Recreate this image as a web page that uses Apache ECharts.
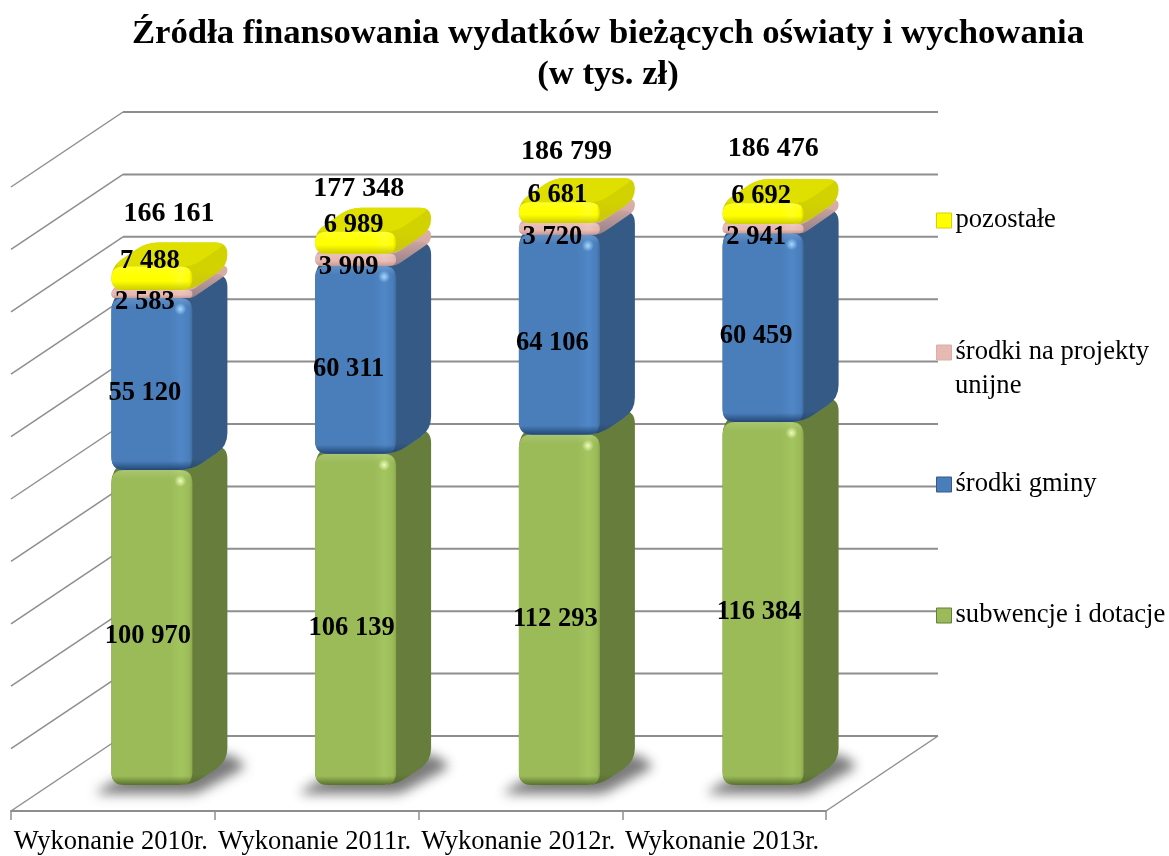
<!DOCTYPE html>
<html><head><meta charset="utf-8">
<style>html,body{margin:0;padding:0;background:#fff}#c{width:1169px;height:856px}</style>
<script src="https://cdn.jsdelivr.net/npm/echarts@6/dist/echarts.min.js"></script>
</head><body><div id="c"></div>
<script>
const categories = ['Wykonanie 2010r.','Wykonanie 2011r.','Wykonanie 2012r.','Wykonanie 2013r.'];
const subwencje = [100970,106139,112293,116384];
const gminy = [55120,60311,64106,60459];
const projekty = [2583,3909,3720,2941];
const pozostale = [7488,6989,6681,6692];
const totals = [166161,177348,186799,186476];
const yTicks = [0,20000,40000,60000,80000,100000,120000,140000,160000,180000,200000];
const seriesNames = ['subwencje i dotacje','środki gminy','środki na projekty unijne','pozostałe'];
const seriesValues = [subwencje,gminy,projekty,pozostale];

const FONT = '"Liberation Serif"';
const palette = [
 {front:'#9BBB59',light:'#A3C55E',side:'#677D3B',top:'#8BA84E',edge:'rgba(80,105,40,0.9)',glow:'rgba(240,255,190,0.95)'},
 {front:'#4A7EBB',light:'#5087C6',side:'#355A85',top:'#3F6C9F',edge:'rgba(30,65,110,0.9)',glow:'rgba(170,220,255,0.95)'},
 {front:'#E6B9B2',light:'#EBC3BC',side:'#D9AFA8',top:'#DDB1AA',edge:'rgba(190,140,132,0.7)',glow:'rgba(255,255,255,0)'},
 {front:'#FFFF00',light:'#FFFF20',side:'#D2D200',top:'#E0E000',edge:'rgba(200,200,0,0.9)',glow:'rgba(255,255,210,0)'}
];
const WALL = {dx:112,dy:-75};
const BAR = {w:81,dx:35,dy:-24,shiftX:39,shiftY:-26,r:13};

function roundedPoly(pts,r){
  const n=pts.length; let d='';
  for(let i=0;i<n;i++){
    const p=pts[i],a=pts[(i+n-1)%n],b=pts[(i+1)%n];
    const la=Math.hypot(a[0]-p[0],a[1]-p[1]),lb=Math.hypot(b[0]-p[0],b[1]-p[1]);
    const ra=Math.min(r,la/2),rb=Math.min(r,lb/2);
    const s=[p[0]+(a[0]-p[0])*ra/la,p[1]+(a[1]-p[1])*ra/la];
    const e=[p[0]+(b[0]-p[0])*rb/lb,p[1]+(b[1]-p[1])*rb/lb];
    d+=(i?'L':'M')+s[0].toFixed(1)+' '+s[1].toFixed(1)+'Q'+p[0].toFixed(1)+' '+p[1].toFixed(1)+' '+e[0].toFixed(1)+' '+e[1].toFixed(1);
  }
  return d+'Z';
}
function pathEl(d,style){return {type:'path',shape:{pathData:d},style};}
function fmt(v){return String(v).replace(/\B(?=(\d{3})+$)/g,' ');}

function layerRender(layer){
  const c=palette[layer];
  return function(params,api){
    const b=api.coord([api.value(0),api.value(1)]);
    const t=api.coord([api.value(0),api.value(2)]);
    const x0=b[0]+BAR.shiftX-BAR.w/2, y0=b[1]+BAR.shiftY, y1=t[1]+BAR.shiftY;
    const w=BAR.w,dx=BAR.dx,dy=BAR.dy,h=y0-y1,r=Math.min(BAR.r,h/2);
    const kids=[];
    if(layer===0){
      const off=3000;
      const sh=[[x0-18,y0+9],[x0+w+4,y0+9],[x0+w+dx+20,y0+dy+5],[x0+w+dx,y0+dy-8],[x0+6,y0-6]].map(p=>[p[0]-off,p[1]]);
      kids.push(pathEl(roundedPoly(sh,8),{fill:'#000',shadowBlur:12,shadowColor:'rgba(70,70,70,0.72)',shadowOffsetX:off,shadowOffsetY:0}));
    }
    kids.push(pathEl(roundedPoly([[x0,y1],[x0+dx,y1+dy],[x0+w+dx,y1+dy],[x0+w+dx,y0+dy],[x0+w,y0],[x0,y0]],r),{
      fill:{type:'linear',x:0,y:0,x2:0,y2:1,colorStops:[{offset:0,color:c.side},{offset:Math.max(0,1-10/h),color:c.side},{offset:1,color:c.edge}]}}));
    kids.push(pathEl(roundedPoly([[x0,y1],[x0+dx,y1+dy],[x0+w+dx,y1+dy],[x0+w,y1]],r),{fill:c.top}));
    const front=roundedPoly([[x0,y1],[x0+w,y1],[x0+w,y0],[x0,y0]],r);
    kids.push(pathEl(front,{fill:{type:'linear',x:0,y:0,x2:1,y2:0,colorStops:[
      {offset:0,color:c.front},{offset:0.72,color:c.front},{offset:0.86,color:c.light},{offset:0.96,color:c.front},{offset:1,color:c.top}]}}));
    const e=Math.min(9,h/2.5)/h;
    kids.push(pathEl(front,{fill:{type:'linear',x:0,y:0,x2:0,y2:1,colorStops:[
      {offset:0,color:'rgba(255,255,255,0.14)'},{offset:e,color:'rgba(255,255,255,0)'},
      {offset:1-e,color:c.edge.replace(/[\d.]+\)$/,'0)')},{offset:1,color:c.edge}]}}));
    if(h>30){
      kids.push({type:'circle',shape:{cx:x0+w-12,cy:y1+11,r:6},style:{fill:{type:'radial',x:0.5,y:0.5,r:0.5,colorStops:[{offset:0,color:c.glow},{offset:1,color:c.glow.replace(/[\d.]+\)$/,'0)')}]}}});
    }
    return {type:'group',children:kids};
  };
}

function wallRender(params,api){
  const cs=params.coordSys;
  const y=api.coord([0,api.value(1)])[1], x=cs.x, xr=cs.x+cs.width;
  const line={stroke:'#8E8E8E',lineWidth:2,fill:null};
  const kids=[
    {type:'line',shape:{x1:x,y1:y,x2:x+WALL.dx,y2:y+WALL.dy},style:{stroke:'#8E8E8E',lineWidth:1.5}},
    {type:'line',shape:{x1:x+WALL.dx,y1:y+WALL.dy,x2:xr+WALL.dx,y2:y+WALL.dy},style:line}
  ];
  if(api.value(1)===0) kids.push({type:'line',shape:{x1:xr,y1:y,x2:xr+WALL.dx,y2:y+WALL.dy},style:{stroke:'#8E8E8E',lineWidth:1.5}});
  return {type:'group',children:kids};
}

const labelDX=[-3,-6,-6,-1], labelDY=[9,9,8,-17];
const totalDX=[18,4,8,11], totalDY=[-53,-43,-50,-54];
function labelRender(params,api){
  const i=api.value(0), layer=api.value(3), p=api.coord([i,api.value(1)]);
  const isTotal=layer===4;
  return {type:'text',style:{
    text:fmt(api.value(2)),
    x:p[0]+38+(isTotal?totalDX[i]:labelDX[layer]),
    y:p[1]+BAR.shiftY+(isTotal?totalDY[i]:labelDY[layer]),
    font:'bold '+(isTotal?28:26.5)+'px '+FONT,fill:'#000',align:'center',verticalAlign:'middle'}};
}

const layerSeries=seriesNames.map((name,l)=>({
  name,type:'custom',z:3+l,clip:false,silent:true,animation:false,
  itemStyle:{color:palette[l].front},
  renderItem:layerRender(l),encode:{x:0,y:[1,2]},
  data:categories.map((_,i)=>{
    let base=0; for(let k=0;k<l;k++) base+=seriesValues[k][i];
    return [i,base,base+seriesValues[l][i]];
  })
}));
const labelData=[];
categories.forEach((_,i)=>{
  let base=0;
  seriesValues.forEach((arr,l)=>{labelData.push([i,base+arr[i]/2,arr[i],l]);base+=arr[i];});
  labelData.push([i,totals[i],totals[i],4]);
});
const legendCenters=[615,484,352,220];
const chart=echarts.init(document.getElementById('c'),null,{renderer:'canvas'});
chart.setOption({
  animation:false,backgroundColor:'#fff',
  title:{text:'Źródła finansowania wydatków bieżących oświaty i wychowania\n(w tys. zł)',left:603,top:9,textAlign:'center',
    textStyle:{fontFamily:FONT,fontWeight:'bold',fontSize:34.7,lineHeight:41,color:'#000'}},
  legend:seriesNames.map((name,l)=>({
    show:true,orient:'vertical',left:936,top:legendCenters[l]-13,itemWidth:15,itemHeight:15,itemGap:0,padding:0,
    selectedMode:false,icon:'rect',
    data:[{name,itemStyle:{color:palette[l].front,borderColor:palette[l].side,borderWidth:1}}],
    formatter:n=>n==='środki na projekty unijne'?'środki na projekty':n,
    textStyle:{fontFamily:FONT,fontSize:26.6,color:'#000',padding:[0,0,0,-1]}
  })),
  graphic:[{type:'text',left:955,top:373,style:{text:'unijne',font:'26.6px '+FONT,fill:'#000'}}],
  grid:{left:11,right:343,top:187,bottom:45,outerBoundsMode:'none'},
  xAxis:{type:'category',data:categories,
    axisLine:{lineStyle:{color:'#8E8E8E',width:2}},
    axisTick:{show:true,length:9,lineStyle:{color:'#8E8E8E',width:1.5}},
    axisLabel:{interval:0,fontFamily:FONT,fontSize:26.5,color:'#000',margin:18,padding:[0,4,0,0]}},
  yAxis:{type:'value',min:0,max:200000,interval:20000,show:false,splitLine:{show:false}},
  series:[
    {type:'custom',name:'siatka',z:1,silent:true,animation:false,clip:false,renderItem:wallRender,encode:{x:0,y:1},data:yTicks.map(v=>[0,v])},
    ...layerSeries,
    {type:'custom',name:'etykiety',z:20,silent:true,animation:false,clip:false,renderItem:labelRender,encode:{x:0,y:1},data:labelData}
  ]
});
</script></body></html>
